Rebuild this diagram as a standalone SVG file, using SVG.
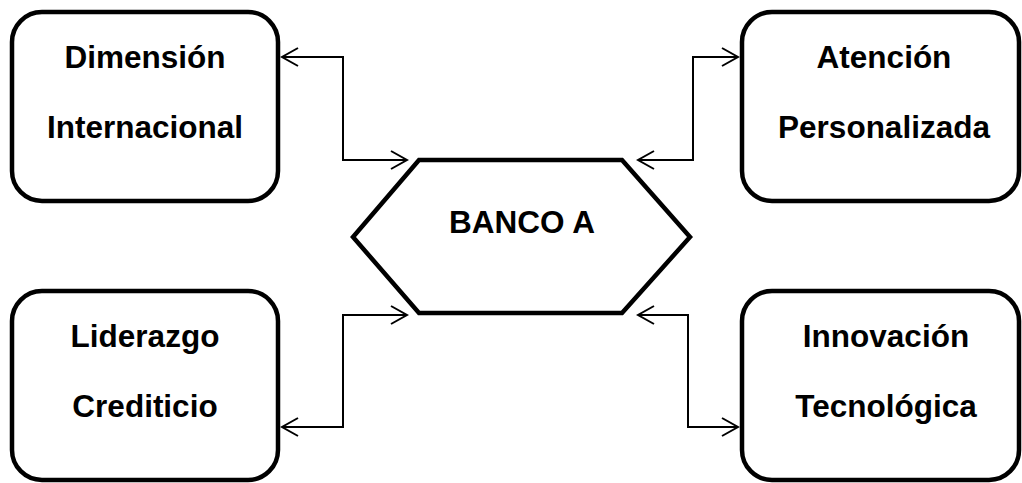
<svg xmlns="http://www.w3.org/2000/svg" width="1022" height="483" viewBox="0 0 1022 483">
<style>
.box{fill:#fff;stroke:#000;stroke-width:4.5}
.lbl{font-family:"Liberation Sans",Arial,sans-serif;font-weight:bold;font-size:31.5px;fill:#000;text-anchor:middle}
.con{fill:none;stroke:#000;stroke-width:2;marker-start:url(#ah);marker-end:url(#ah)}
</style>
<defs>
<marker id="ah" viewBox="0 0 20 20" refX="18" refY="10" markerWidth="20" markerHeight="20" markerUnits="userSpaceOnUse" orient="auto-start-reverse">
<path d="M2,1 L18,10 L2,19" fill="none" stroke="#000" stroke-width="2"/>
</marker>
</defs>
<rect width="1022" height="483" fill="#fff"/>
<g id="connectors">
<path class="con" d="M282,57 H343 V160 H407"/>
<path class="con" d="M638,160 H693 V57 H738"/>
<path class="con" d="M282,427 H343 V315 H407"/>
<path class="con" d="M638,315 H688 V427 H738"/>
</g>
<g id="banco">
<polygon class="box" points="419,160 622,160 690,237 622,313 419,313 353,237"/>
<text class="lbl" x="522" y="233">BANCO A</text>
</g>
<g id="dimension">
<rect class="box" x="12" y="12" width="266" height="189" rx="30"/>
<text class="lbl" x="145" y="68">Dimensión</text>
<text class="lbl" x="145" y="138">Internacional</text>
</g>
<g id="atencion">
<rect class="box" x="742" y="12" width="277" height="189" rx="30"/>
<text class="lbl" x="884" y="68">Atención</text>
<text class="lbl" x="884" y="138">Personalizada</text>
</g>
<g id="liderazgo">
<rect class="box" x="12" y="291" width="266" height="189" rx="30"/>
<text class="lbl" x="145" y="347">Liderazgo</text>
<text class="lbl" x="145" y="417">Crediticio</text>
</g>
<g id="innovacion">
<rect class="box" x="742" y="291" width="277" height="189" rx="30"/>
<text class="lbl" x="886" y="347">Innovación</text>
<text class="lbl" x="886" y="417">Tecnológica</text>
</g>
</svg>
